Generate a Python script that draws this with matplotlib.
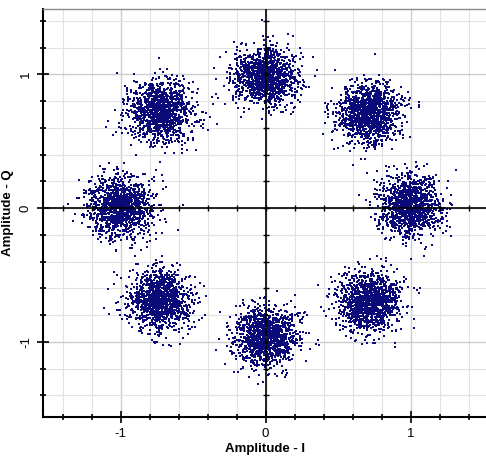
import numpy as np
import matplotlib
matplotlib.use('Agg')
import matplotlib.pyplot as plt

plt.rcParams['font.family'] = ['Liberation Sans', 'DejaVu Sans']
plt.rcParams['axes.unicode_minus'] = False

# 8-PSK constellation: cluster centres (I, Q)
centre_i = [1.0, 0.71, 0.0, -0.72, -1.0, -0.73, 0.0, 0.72]
centre_q = [0.02, 0.71, 0.99, 0.72, 0.01, -0.69, -0.96, -0.70]
spread = [0.11, 0.11, 0.11, 0.11, 0.11, 0.11, 0.11, 0.11]
n_per_cluster = 1300

major_ticks = [-1, 0, 1]
minor_step = 0.2

# noise cloud around each symbol (fixed seed so the output never changes)
rng = np.random.default_rng(7)
pts_i = []
pts_q = []
for ci, cq, s in zip(centre_i, centre_q, spread):
    pts_i.append(ci + rng.normal(0, s, n_per_cluster))
    pts_q.append(cq + rng.normal(0, s, n_per_cluster))
pts_i = np.concatenate(pts_i)
pts_q = np.concatenate(pts_q)

fig = plt.figure(figsize=(4.86, 4.63), dpi=100)
ax = fig.add_axes([0.0885, 0.10, 0.9115, 0.8806])

ax.set_xlim(-1.535, 1.52)
ax.set_ylim(-1.56, 1.49)

minor = np.arange(-1.4, 1.41, minor_step)
ax.set_xticks(major_ticks)
ax.set_yticks(major_ticks)
ax.set_xticks(minor, minor=True)
ax.set_yticks(minor, minor=True)
ax.grid(which='minor', color='#e2e2e2', linewidth=0.8, zorder=0)
ax.grid(which='major', color='#cccccc', linewidth=1.0, zorder=0)
ax.set_axisbelow(True)

ax.scatter(pts_i, pts_q, s=1.0, marker='s', color='#0a0a78', linewidths=0, zorder=2)

# origin axes with small tick marks
ax.axhline(0, color='black', linewidth=1.2, zorder=3)
ax.axvline(0, color='black', linewidth=1.2, zorder=3)
ax.plot(minor, np.zeros_like(minor), linestyle='none', marker='|',
        markersize=5, color='black', markeredgewidth=1.0, zorder=3)
ax.plot(np.zeros_like(minor), minor, linestyle='none', marker='_',
        markersize=5, color='black', markeredgewidth=1.0, zorder=3)

ax.spines['right'].set_visible(False)
ax.spines['top'].set_linestyle((0, (1, 1)))
ax.spines['top'].set_color('#888888')
ax.spines['top'].set_linewidth(1.0)
ax.spines['bottom'].set_linestyle((0, (1, 1)))
ax.spines['bottom'].set_color('black')
ax.spines['bottom'].set_linewidth(1.5)
ax.spines['left'].set_color('black')
ax.spines['left'].set_linewidth(1.5)

ax.tick_params(which='both', direction='inout', color='black', width=1.2)
ax.tick_params(which='major', length=8, labelsize=9.5, pad=4)
ax.tick_params(which='minor', length=4)
ax.tick_params(axis='y', labelrotation=90)
for lbl in ax.get_yticklabels():
    lbl.set_va('center')

ax.set_xlabel('Amplitude - I', fontsize=9.5, fontweight='bold', labelpad=2)
ax.set_ylabel('Amplitude - Q', fontsize=9.5, fontweight='bold', labelpad=4)

fig.savefig('out.png', dpi=100)
